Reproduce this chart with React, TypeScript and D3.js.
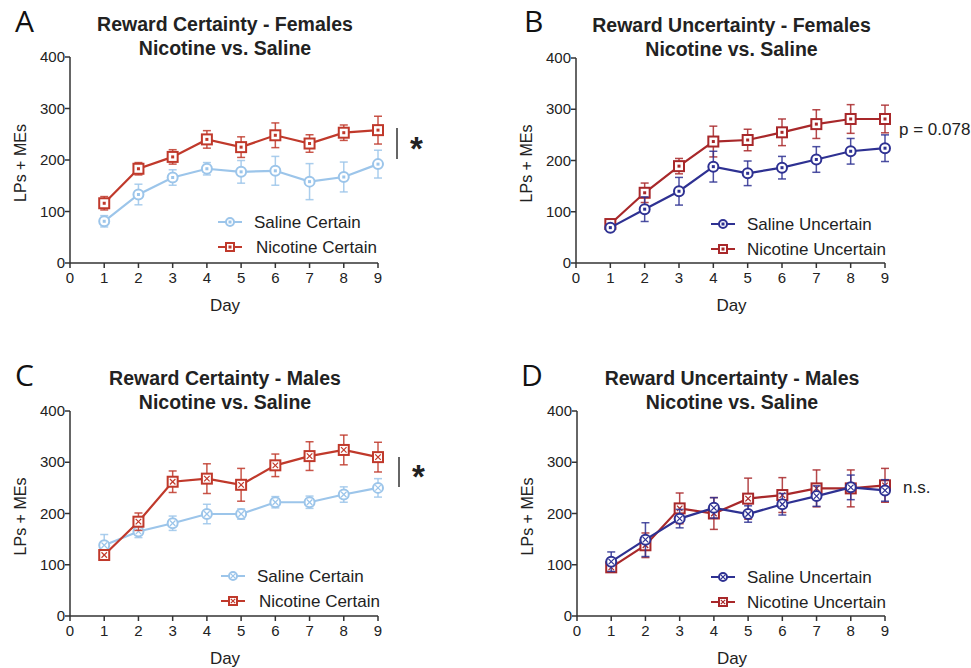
import React from "react";
import * as d3 from "d3";

// days of training
const days = [1, 2, 3, 4, 5, 6, 7, 8, 9];
const xTicks = [0, 1, 2, 3, 4, 5, 6, 7, 8, 9];
const yTicks = [0, 100, 200, 300, 400];

// A - certainty, females
const femCertSaline = [81, 133, 166, 183, 177, 179, 158, 167, 192];
const femCertSalineErr = [11, 20, 15, 12, 22, 28, 35, 29, 27];
const femCertNicotine = [116, 183, 206, 240, 225, 248, 232, 253, 258];
const femCertNicotineErr = [13, 12, 14, 17, 20, 24, 17, 15, 27];

// B - uncertainty, females
const femUncSaline = [69, 105, 140, 188, 175, 186, 202, 218, 224];
const femUncSalineErr = [5, 24, 27, 30, 24, 22, 25, 25, 26];
const femUncNicotine = [76, 137, 189, 237, 240, 255, 271, 281, 281];
const femUncNicotineErr = [4, 19, 15, 30, 21, 26, 28, 28, 27];

// C - certainty, males
const maleCertSaline = [138, 165, 181, 199, 199, 222, 222, 237, 250];
const maleCertSalineErr = [21, 12, 14, 19, 10, 11, 12, 15, 18];
const maleCertNicotine = [119, 184, 262, 268, 256, 294, 312, 324, 310];
const maleCertNicotineErr = [10, 17, 21, 29, 32, 22, 28, 29, 29];

// D - uncertainty, males
const maleUncSaline = [106, 149, 190, 211, 199, 218, 234, 251, 245];
const maleUncSalineErr = [19, 33, 18, 20, 16, 21, 20, 24, 21];
const maleUncNicotine = [95, 138, 210, 200, 229, 236, 249, 249, 255];
const maleUncNicotineErr = [8, 24, 30, 31, 40, 34, 36, 36, 33];

const LIGHT_BLUE = "#9cc5ea";
const RED = "#c0392b";
const DARK_BLUE = "#2e3192";
const DARK_RED = "#a8282a";
const AXIS = "#333";
const FONT = "Arial, 'Liberation Sans', Helvetica, sans-serif";

type Series = {
  name: string;
  values: number[];
  errors: number[];
  color: string;
  shape: "circle" | "square";
};

const Marker = ({ x, y, color, shape, cross, size = 5 }) => {
  const inner = cross ? (
    <g stroke={color} strokeWidth={1.2}>
      <line x1={x - size * 0.55} y1={y - size * 0.55} x2={x + size * 0.55} y2={y + size * 0.55} />
      <line x1={x - size * 0.55} y1={y + size * 0.55} x2={x + size * 0.55} y2={y - size * 0.55} />
    </g>
  ) : (
    <rect x={x - 1.5} y={y - 1.5} width={3} height={3} fill={color} />
  );
  return (
    <g>
      {shape === "circle" ? (
        <circle cx={x} cy={y} r={size} fill="white" stroke={color} strokeWidth={2} />
      ) : (
        <rect x={x - size} y={y - size} width={size * 2} height={size * 2} fill="white" stroke={color} strokeWidth={2} />
      )}
      {inner}
    </g>
  );
};

const Panel = ({ letter, letterX, letterY, title, ax, ax9, y0, y400, series, cross, legend, note }) => {
  const x = d3.scaleLinear().domain([0, 9]).range([ax, ax9]);
  const y = d3.scaleLinear().domain([0, 400]).range([y0, y400]);
  const line = d3.line<number>().x((_, i) => x(days[i])).y((v) => y(v));
  const cx = (ax + ax9) / 2 + 1;

  return (
    <g fontFamily={FONT} fill="#222">
      <text x={letterX} y={letterY} fontSize={30} fontFamily="'Open Sans', 'Noto Sans', sans-serif" fill="#111">
        {letter}
      </text>
      <text x={cx} y={y400 - 26} textAnchor="middle" fontWeight="bold" fontSize={19.5}>
        {title[0]}
      </text>
      <text x={cx} y={y400 - 2} textAnchor="middle" fontWeight="bold" fontSize={19.5}>
        {title[1]}
      </text>

      {/* axes */}
      <g stroke={AXIS} strokeWidth={1.5}>
        <line x1={ax} y1={y0} x2={x(9)} y2={y0} />
        <line x1={ax} y1={y0} x2={ax} y2={y(400)} />
        {xTicks.map((t) => (
          <line key={"xt" + t} x1={x(t)} x2={x(t)} y1={y0} y2={y0 + 5} />
        ))}
        {yTicks.map((t) => (
          <line key={"yt" + t} x1={ax - 5} x2={ax} y1={y(t)} y2={y(t)} />
        ))}
      </g>
      {xTicks.map((t) => (
        <text key={"xl" + t} x={x(t)} y={y0 + 20} textAnchor="middle" fontSize={15}>
          {t}
        </text>
      ))}
      {yTicks.map((t) => (
        <text key={"yl" + t} x={ax - 5} y={y(t) + 5} textAnchor="end" fontSize={15}>
          {t}
        </text>
      ))}
      <text x={cx} y={y0 + 48} textAnchor="middle" fontSize={17}>
        Day
      </text>
      <text
        transform={`translate(${ax - 44},${(y0 + y400) / 2 + 3}) rotate(-90)`}
        textAnchor="middle"
        fontSize={16}
      >
        LPs + MEs
      </text>

      {/* series */}
      {series.map((s: Series) => (
        <g key={s.name}>
          <g stroke={s.color} strokeWidth={1.5} strokeOpacity={0.85}>
            {s.values.map((v, i) => (
              <g key={i}>
                <line x1={x(days[i])} x2={x(days[i])} y1={y(v - s.errors[i])} y2={y(v + s.errors[i])} />
                <line x1={x(days[i]) - 4} x2={x(days[i]) + 4} y1={y(v - s.errors[i])} y2={y(v - s.errors[i])} />
                <line x1={x(days[i]) - 4} x2={x(days[i]) + 4} y1={y(v + s.errors[i])} y2={y(v + s.errors[i])} />
              </g>
            ))}
          </g>
          <path d={line(s.values) || ""} fill="none" stroke={s.color} strokeWidth={2.2} />
          {s.values.map((v, i) => (
            <Marker key={i} x={x(days[i])} y={y(v)} color={s.color} shape={s.shape} cross={cross} />
          ))}
        </g>
      ))}

      {/* legend */}
      {legend.items.map((s: Series, i: number) => {
        const ly = legend.y + i * 25;
        return (
          <g key={"lg" + i}>
            <line x1={legend.x - 12} x2={legend.x + 12} y1={ly} y2={ly} stroke={s.color} strokeWidth={2} />
            <Marker x={legend.x} y={ly} color={s.color} shape={s.shape} cross={cross} size={4} />
            <text x={legend.x + 24 + (i === 1 && !legend.flat ? 2 : 0)} y={ly + 6} fontSize={17}>
              {s.name}
            </text>
          </g>
        );
      })}

      {note}
    </g>
  );
};

const sig = (x: number, yTop: number, yBot: number) => (
  <g>
    <line x1={x} x2={x} y1={yTop} y2={yBot} stroke={AXIS} strokeWidth={1.5} />
    <text x={x + 13} y={yBot + 1} fontSize={33} fontWeight="bold" fill="#222">
      *
    </text>
  </g>
);

export default function App() {
  const aSal: Series = { name: "Saline Certain", values: femCertSaline, errors: femCertSalineErr, color: LIGHT_BLUE, shape: "circle" };
  const aNic: Series = { name: "Nicotine Certain", values: femCertNicotine, errors: femCertNicotineErr, color: RED, shape: "square" };
  const bSal: Series = { name: "Saline Uncertain", values: femUncSaline, errors: femUncSalineErr, color: DARK_BLUE, shape: "circle" };
  const bNic: Series = { name: "Nicotine Uncertain", values: femUncNicotine, errors: femUncNicotineErr, color: DARK_RED, shape: "square" };
  const cSal: Series = { name: "Saline Certain", values: maleCertSaline, errors: maleCertSalineErr, color: LIGHT_BLUE, shape: "circle" };
  const cNic: Series = { name: "Nicotine Certain", values: maleCertNicotine, errors: maleCertNicotineErr, color: RED, shape: "square" };
  const dSal: Series = { name: "Saline Uncertain", values: maleUncSaline, errors: maleUncSalineErr, color: DARK_BLUE, shape: "circle" };
  const dNic: Series = { name: "Nicotine Uncertain", values: maleUncNicotine, errors: maleUncNicotineErr, color: DARK_RED, shape: "square" };

  return (
    <svg width={971} height={668} style={{ position: "absolute", left: 0, top: 0, background: "white" }}>
      <Panel
        letter="A" letterX={15} letterY={32}
        title={["Reward Certainty - Females", "Nicotine vs. Saline"]}
        ax={70} ax9={378} y0={263} y400={57}
        series={[aSal, aNic]} cross={false}
        legend={{ x: 230, y: 222, items: [aSal, aNic] }}
        note={sig(397, 128, 159)}
      />
      <Panel
        letter="B" letterX={524} letterY={32}
        title={["Reward Uncertainty - Females", "Nicotine vs. Saline"]}
        ax={576} ax9={885} y0={263} y400={58}
        series={[bNic, bSal]} cross={false}
        legend={{ x: 723, y: 224, items: [bSal, bNic], flat: true }}
        note={<text x={899} y={135} fontSize={17} fill="#222">p = 0.078</text>}
      />
      <Panel
        letter="C" letterX={15} letterY={386}
        title={["Reward Certainty - Males", "Nicotine vs. Saline"]}
        ax={70} ax9={378} y0={616} y400={411}
        series={[cSal, cNic]} cross={true}
        legend={{ x: 233, y: 576, items: [cSal, cNic] }}
        note={sig(399, 457, 487)}
      />
      <Panel
        letter="D" letterX={521} letterY={386}
        title={["Reward Uncertainty - Males", "Nicotine vs. Saline"]}
        ax={577} ax9={885} y0={616} y400={411}
        series={[dNic, dSal]} cross={true}
        legend={{ x: 723, y: 577, items: [dSal, dNic], flat: true }}
        note={<text x={903} y={493} fontSize={17} fill="#222">n.s.</text>}
      />
    </svg>
  );
}
